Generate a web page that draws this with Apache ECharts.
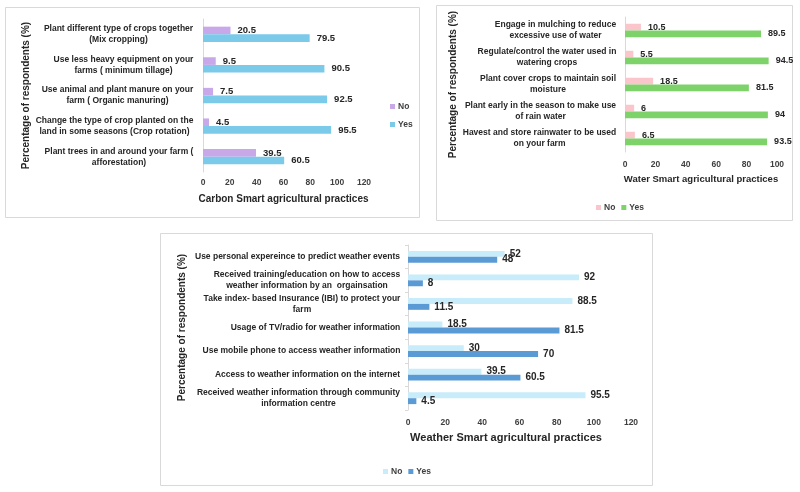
<!DOCTYPE html>
<html>
<head>
<meta charset="utf-8">
<script src="https://cdn.jsdelivr.net/npm/echarts@6/dist/echarts.min.js"></script>
<style>
html,body{margin:0;padding:0;background:#fff;}
#c{width:800px;height:492px;}
</style>
</head>
<body>
<div id="c"></div>
<script>
// ---------- data ----------
const carbonCats = [
  "Plant different type of crops together\n(Mix cropping)",
  "Use less heavy equipment on your\nfarms ( minimum tillage)",
  "Use animal and plant manure on your\nfarm ( Organic manuring)",
  "Change the type of crop planted on the\nland in some seasons (Crop rotation)",
  "Plant trees in and around your farm (\nafforestation)"
];
const carbonNo  = [20.5, 9.5, 7.5, 4.5, 39.5];
const carbonYes = [79.5, 90.5, 92.5, 95.5, 60.5];

const waterCats = [
  "Engage in mulching to reduce\nexcessive use of water",
  "Regulate/control the water used in\nwatering crops",
  "Plant cover crops to maintain soil\nmoisture",
  "Plant early in the season to make use\nof rain water",
  "Havest and store rainwater to be used\non your farm"
];
const waterNo  = [10.5, 5.5, 18.5, 6, 6.5];
const waterYes = [89.5, 94.5, 81.5, 94, 93.5];

const weatherCats = [
  "Use personal expereince to predict weather events",
  "Received training/education on how to access\nweather information by an  orgainsation",
  "Take index- based Insurance (IBI) to protect your\nfarm",
  "Usage of TV/radio for weather information",
  "Use mobile phone to access weather information",
  "Access to weather information on the internet",
  "Received weather information through community\ninformation centre"
];
const weatherNo  = [52, 92, 88.5, 18.5, 30, 39.5, 95.5];
const weatherYes = [48, 8, 11.5, 81.5, 70, 60.5, 4.5];

const legendNames = ["No", "Yes"];
const yName = "Percentage of respondents (%)";

// ---------- styling helpers ----------
const FF = '"Liberation Sans", Arial, sans-serif';
const TXT = '#262626';

function catLabel(cats, size, lh, margin) {
  const ctx = document.createElement('canvas').getContext('2d');
  ctx.font = 'bold ' + size + 'px "Liberation Sans", Arial, sans-serif';
  const rich = {};
  cats.forEach((c, i) => {
    const w = Math.max.apply(null, c.split('\n').map(l => ctx.measureText(l).width));
    rich['c' + i] = {width: Math.ceil(w) + 1, align: 'center', fontSize: size,
      fontWeight: 'bold', lineHeight: lh, color: TXT, fontFamily: FF};
  });
  return {
    margin: margin,
    align: 'right',
    formatter: (v, idx) => v.split('\n').map(l => '{c' + idx + '|' + l + '}').join('\n'),
    rich: rich
  };
}

function xAxisDef(gi, max, name, nameSize, nameGap, labelMargin, namePad) {
  return {
    type: 'value', gridIndex: gi, min: 0, max: max, interval: 20,
    axisLine: {show: false}, axisTick: {show: false}, splitLine: {show: false},
    axisLabel: {margin: labelMargin, fontSize: 8.5, fontWeight: 'bold', color: '#404040', fontFamily: FF},
    name: name, nameLocation: 'middle', nameGap: nameGap,
    nameTextStyle: {fontSize: nameSize, fontWeight: 'bold', color: TXT, fontFamily: FF, padding: namePad || 0}
  };
}

function yAxisDef(gi, cats, nameGap, labelSize, lh, margin, ticks) {
  return {
    type: 'category', gridIndex: gi, data: cats, inverse: true,
    axisLine: {show: true, lineStyle: {color: '#d9d9d9', width: 1}},
    axisTick: {show: ticks, length: 3, lineStyle: {color: '#d9d9d9'}},
    axisLabel: catLabel(cats, labelSize, lh, margin),
    name: yName, nameLocation: 'middle', nameRotate: 90, nameGap: nameGap,
    nameTextStyle: {fontSize: 10, fontWeight: 'bold', color: TXT, fontFamily: FF}
  };
}

function barSeries(name, gi, data, color, labelSize, dist) {
  return {
    type: 'bar', name: name, xAxisIndex: gi, yAxisIndex: gi, data: data,
    barGap: '0%', barCategoryGap: '50%',
    itemStyle: {color: color},
    label: {show: true, position: 'right', distance: dist, fontSize: labelSize,
      fontWeight: 'bold', color: TXT, fontFamily: FF},
    emphasis: {disabled: true}
  };
}

function legendDef(prefix, extra) {
  return Object.assign({
    data: legendNames.map(n => prefix + ' ' + n),
    formatter: n => n.replace(/^.* /, ''),
    icon: 'rect', itemWidth: 5, itemHeight: 5,
    textStyle: {fontSize: 8.5, fontWeight: 'bold', color: '#404040', fontFamily: FF, padding: [0, 0, 0, -2]},
    selectedMode: false
  }, extra);
}

function panel(x1, y1, x2, y2) {
  return {type: 'rect', silent: true, z: -1,
    shape: {x: x1 + 0.5, y: y1 + 0.5, width: x2 - x1, height: y2 - y1},
    style: {fill: '#fff', stroke: '#d9d9d9', lineWidth: 1}};
}

const chart = echarts.init(document.getElementById('c'), null, {renderer: 'canvas'});
chart.setOption({
  animation: false,
  backgroundColor: '#fff',
  graphic: [panel(5, 7, 419, 217), panel(436, 5, 792, 220), panel(160, 233, 652, 485)],
  grid: [
    {left: 203, top: 19, width: 161, height: 153},
    {left: 625, top: 17, width: 152, height: 135},
    {left: 408, top: 245, width: 223, height: 165}
  ],
  xAxis: [
    xAxisDef(0, 120, 'Carbon Smart agricultural practices', 10, 22, 6),
    xAxisDef(1, 100, 'Water Smart agricultural practices', 9.5, 22, 8),
    xAxisDef(2, 120, 'Weather Smart agricultural practices', 11, 22, 8, [0, 27, 0, 0])
  ],
  yAxis: [
    yAxisDef(0, carbonCats, 172, 8.5, 11, 9, false),
    yAxisDef(1, waterCats, 166, 8.5, 11, 8, false),
    yAxisDef(2, weatherCats, 221, 8.5, 10.5, 7, true)
  ],
  legend: [
    legendDef('Carbon', {orient: 'vertical', left: 385, top: 97, itemGap: 9}),
    legendDef('Water', {orient: 'horizontal', left: 591, top: 198, itemGap: 6}),
    legendDef('Weather', {orient: 'horizontal', left: 378, top: 462, itemGap: 6})
  ],
  series: [
    barSeries('Carbon No', 0, carbonNo, '#c9a8ea', 9.5, 7),
    barSeries('Carbon Yes', 0, carbonYes, '#7ccaea', 9.5, 7),
    barSeries('Water No', 1, waterNo, '#fbc6cb', 9, 7),
    barSeries('Water Yes', 1, waterYes, '#7dd36a', 9, 7),
    barSeries('Weather No', 2, weatherNo, '#c8ecfa', 10, 5),
    barSeries('Weather Yes', 2, weatherYes, '#5b9bd5', 10, 5)
  ]
});
</script>
</body>
</html>
